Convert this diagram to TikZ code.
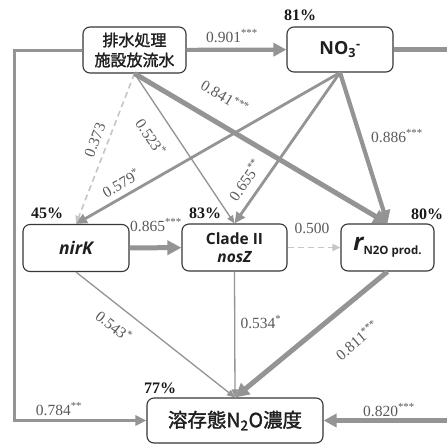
\documentclass[tikz,border=0pt]{standalone}
\usepackage{fontspec}
\setmainfont{Liberation Serif}
\newfontfamily\jpf[FakeBold=1.6]{Noto Sans CJK JP}
\newfontfamily\osf{Open Sans}
\usetikzlibrary{arrows.meta}
\definecolor{ln}{RGB}{148,148,148}
\definecolor{dl}{RGB}{198,198,198}
\definecolor{lbl}{RGB}{90,90,90}
\definecolor{bd}{RGB}{55,55,55}
\tikzset{
  box/.style={draw=bd, line width=1.1pt, rounded corners=7pt, fill=white, align=center, inner sep=0pt, text=black!88},
  thk/.style={draw=ln, line width=4.2pt, -{Triangle[length=13pt,width=13pt]}},
  thkk/.style={draw=ln, line width=5pt, -{Triangle[length=14pt,width=14pt]}},
  med/.style={draw=ln, line width=2.8pt, -{Triangle[length=11pt,width=10pt]}},
  thn/.style={draw=ln, line width=1.3pt, -{Triangle[length=8pt,width=6.5pt]}},
  dsh/.style={draw=dl, line width=1.6pt, dash pattern=on 6pt off 4pt, -{Triangle[length=8pt,width=7pt]}},
  frm/.style={draw=ln, line width=3pt, -{Triangle[length=11pt,width=10pt]}},
  frmr/.style={draw=ln, line width=4.5pt, -{Triangle[length=13pt,width=13pt]}},
  lab/.style={text=lbl, font=\fontsize{15.5}{16}\selectfont, inner sep=0pt},
  pct/.style={text=black!90, font=\fontsize{16}{16}\selectfont\bfseries, inner sep=0pt},
}
\begin{document}
\begin{tikzpicture}[x=1pt,y=-1pt]
\useasboundingbox (0,0) rectangle (447,445);
\fill[white] (0,0) rectangle (447,445);
\clip (0,0) rectangle (447,445);

% boxes
\node[box, minimum width=103pt, minimum height=46pt, font=\jpf\fontsize{16}{20}\selectfont] (src) at (134.5,50) {排水処理\\施設放流水};
\node[box, minimum width=106pt, minimum height=45pt, font=\osf\bfseries\fontsize{18}{20}\selectfont] (no3) at (340,49.5) {NO\textsubscript{3}\textsuperscript{-}};
\node[box, minimum width=106pt, minimum height=47pt, font=\osf\bfseries\itshape\fontsize{17.5}{18}\selectfont] (nirk) at (76,248) {nirK};
\node[box, minimum width=105pt, minimum height=47pt, font=\osf\bfseries\fontsize{15.5}{18.5}\selectfont] (clade) at (234.5,247.5) {Clade II\\\itshape nosZ};
\node[box, minimum width=93pt, minimum height=47pt] (rr) at (387.5,247.5) {{\osf\bfseries\itshape\fontsize{24}{24}\selectfont r}\raisebox{-4pt}{\osf\bfseries\fontsize{11.5}{12}\selectfont N2O prod.}};
\node[box, minimum width=176pt, minimum height=45pt, font=\jpf\fontsize{19.5}{22}\selectfont] (diss) at (235,420.5) {溶存態N\textsubscript{2}O濃度};

\coordinate (Lc) at (14,240);
\coordinate (Rc) at (470,240);

% connectors
\draw[frm] (src.west) -| (Lc) |- (diss.west);
\draw[frmr] (no3.east) -| (Rc) |- (diss.east);
\draw[thk] (src) -- (no3);
\draw[dsh] (src.south) -- (nirk.north);
\draw[thn] (src.south) -- (clade.north);
\draw[thkk] (src.south) -- (rr.north);
\draw[med] (no3.south) -- (nirk.north);
\draw[med] (no3.south) -- (clade.north);
\draw[thk] (no3.south) -- (rr.north);
\draw[thkk] (nirk) -- (clade);
\draw[dsh] (clade) -- (rr);
\draw[thn] (nirk.south) -- (diss.north);
\draw[thn] (clade.south) -- (diss.north);
\draw[thkk] (rr.south) -- (diss.north);

% labels
\node[lab] (l901) at (232,36) {0.901\textsuperscript{***}};
\node[lab, rotate=68.7] (l373) at (95,140) {0.373};
\node[lab, rotate=-56.5] (l523) at (151,137) {0.523\textsuperscript{*}};
\node[lab, rotate=-30.8] (l841) at (225,97) {0.841\textsuperscript{***}};
\node[lab, rotate=30] (l579) at (121,183) {0.579\textsuperscript{*}};
\node[lab, rotate=55.7] (l655) at (245,180) {0.655\textsuperscript{**}};
\node[lab] (l886) at (397,136) {0.886\textsuperscript{***}};
\node[lab] (l865) at (156,225) {0.865\textsuperscript{***}};
\node[lab] (l500) at (312,228) {0.500};
\node[lab, rotate=-38.6] (l543) at (114,326) {0.543\textsuperscript{*}};
\node[lab] (l534) at (261,322) {0.534\textsuperscript{*}};
\node[lab, rotate=40] (l811) at (357,340) {0.811\textsuperscript{***}};
\node[lab] (l784) at (59,409) {0.784\textsuperscript{**}};
\node[lab] (l820) at (389,410) {0.820\textsuperscript{***}};

% percentages
\node[pct] (p81) at (300,15) {81\%};
\node[pct] (p45) at (47,213) {45\%};
\node[pct] (p83) at (205,213) {83\%};
\node[pct] (p80) at (427,214) {80\%};
\node[pct] (p77) at (160,388) {77\%};
\end{tikzpicture}
\end{document}
